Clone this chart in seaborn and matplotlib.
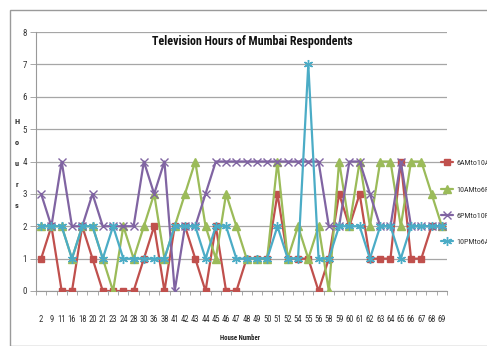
import numpy as np
import pandas as pd
import seaborn as sns
import matplotlib
matplotlib.use("Agg")
import matplotlib.pyplot as plt
from matplotlib import font_manager
from matplotlib.patches import Rectangle
from matplotlib.ticker import FixedLocator, NullFormatter

# House numbers surveyed (category axis)
house_numbers = ["2", "9", "11", "16", "18", "20", "21", "23", "24", "28",
                 "30", "36", "38", "41", "42", "43", "44", "45", "46", "47",
                 "48", "49", "50", "51", "52", "54", "55", "56", "58", "59",
                 "60", "61", "62", "63", "64", "65", "66", "67", "68", "69"]

# Hours of television watched in each time slot
morning = [1, 2, 0, 0, 2, 1, 0, 0, 0, 0, 1, 2, 0, 2, 2, 1, 0, 2, 0, 0,
           1, 1, 1, 3, 1, 1, 1, 0, 1, 3, 2, 3, 1, 1, 1, 4, 1, 1, 2, 2]
daytime = [2, 2, 2, 1, 2, 2, 1, 0, 2, 1, 2, 3, 1, 2, 3, 4, 2, 1, 3, 2,
           1, 1, 1, 4, 1, 2, 1, 2, 0, 4, 2, 4, 2, 4, 4, 2, 4, 4, 3, 2]
evening = [3, 2, 4, 2, 2, 3, 2, 2, 2, 2, 4, 3, 4, 0, 2, 2, 3, 4, 4, 4,
           4, 4, 4, 4, 4, 4, 4, 4, 2, 2, 4, 4, 3, 2, 2, 4, 2, 2, 2, 2]
night = [2, 2, 2, 1, 2, 2, 1, 2, 1, 1, 1, 1, 1, 2, 2, 2, 1, 2, 2, 1,
         1, 1, 1, 2, 1, 1, 7, 1, 1, 2, 2, 2, 1, 2, 2, 1, 2, 2, 2, 2]

series_names = ["6AMto10AM", "10AMto6PM", "6PMto10PM", "10PMto6AM"]
series_values = [morning, daytime, evening, night]
colors = ["#C0504D", "#9BBB59", "#8064A2", "#4BACC6"]
markers = ["s", "^", "x", (6, 2, 0)]
marker_sizes = [5.0, 5.5, 5.5, 6.5]

sns.set_theme(style="white")

# prefer a narrow sans face when one is available
available = {f.name for f in font_manager.fontManager.ttflist}
narrow = None
for cand in ["Liberation Sans Narrow", "Roboto Condensed", "Open Sans Condensed",
             "DejaVu Sans Condensed", "Noto Sans Condensed"]:
    if cand in available:
        narrow = cand
        break
if narrow is None:
    condensed = [f.name for f in font_manager.fontManager.ttflist
                 if str(f.stretch) in ("condensed", "semi-condensed", "extra-condensed")]
    narrow = condensed[0] if condensed else "Liberation Sans"
plt.rcParams["font.family"] = [narrow, "Liberation Sans", "DejaVu Sans"]

fig = plt.figure(figsize=(4.87, 3.46), dpi=100)
ax = fig.add_axes([36 / 487, 1 - 291 / 346, 411 / 487, 259 / 346])

pos = np.arange(len(house_numbers))
for name, vals, col, mk, ms in zip(series_names, series_values, colors, markers, marker_sizes):
    df = pd.DataFrame({"pos": pos, "hours": vals})
    sns.lineplot(data=df, x="pos", y="hours", ax=ax, color=col, linewidth=1.6,
                 marker=mk, markersize=ms, markeredgecolor=col,
                 markeredgewidth=1.0, label=name, zorder=3)

ax.set_xlim(-0.5, len(house_numbers) - 0.5)
ax.set_ylim(0, 8)
ax.set_yticks(range(0, 9))
ax.set_xticks(pos)
ax.set_xticklabels(house_numbers)
ax.xaxis.set_minor_locator(FixedLocator(np.arange(-0.5, len(house_numbers), 1)))
ax.xaxis.set_minor_formatter(NullFormatter())
ax.tick_params(axis="x", which="major", length=0, labelsize=6.2, pad=17, colors="#333333")
ax.tick_params(axis="x", which="minor", length=3, width=0.6, color="#999999", direction="out", bottom=True)
ax.tick_params(axis="y", which="major", length=4, width=0.6, color="#999999", direction="out",
               left=True, labelsize=6.5, pad=2.5, labelcolor="#333333")

ax.grid(axis="y", color="#a6a6a6", linewidth=0.9)
ax.set_axisbelow(True)
for side in ["top", "right"]:
    ax.spines[side].set_visible(False)
for side in ["left", "bottom"]:
    ax.spines[side].set_color("#999999")
    ax.spines[side].set_linewidth(0.8)

ax.set_xlabel("")
ax.set_ylabel("")

title = fig.text(252 / 487, 1 - 41 / 346, "Television Hours of Mumbai Respondents",
                 ha="center", va="center", fontsize=10, fontweight="bold", color="#111111")
xlab = fig.text(240 / 487, 1 - 338 / 346, "House Number", ha="center", va="center",
                fontsize=6, fontweight="bold", color="#222222")
for k, ch in enumerate("Hours"):
    fig.text(17 / 487, 1 - (122 + 20.8 * k) / 346, ch, ha="center", va="center",
             fontsize=6, fontweight="bold", color="#333333")

leg = ax.legend(loc="upper left", bbox_to_anchor=(441 / 487, 1 - 159.5 / 346),
                bbox_transform=fig.transFigure, frameon=False, fontsize=5.8,
                handlelength=1.5, labelspacing=2.45, handletextpad=0.4,
                borderaxespad=0, borderpad=0)
for t in leg.get_texts():
    t.set_color("#333333")

fig.patches.append(Rectangle((10 / 487, 0), 1, 1 - 10 / 346, transform=fig.transFigure,
                             fill=False, edgecolor="#9a9a9a", linewidth=1.0, clip_on=False))

# scale the title and axis caption to their drawn widths
fig.canvas.draw()
renderer = fig.canvas.get_renderer()
for txt, width_px in [(title, 201), (xlab, 40)]:
    w = txt.get_window_extent(renderer).width
    txt.set_fontsize(txt.get_fontsize() * width_px / w)

fig.savefig("out.png", dpi=100)
